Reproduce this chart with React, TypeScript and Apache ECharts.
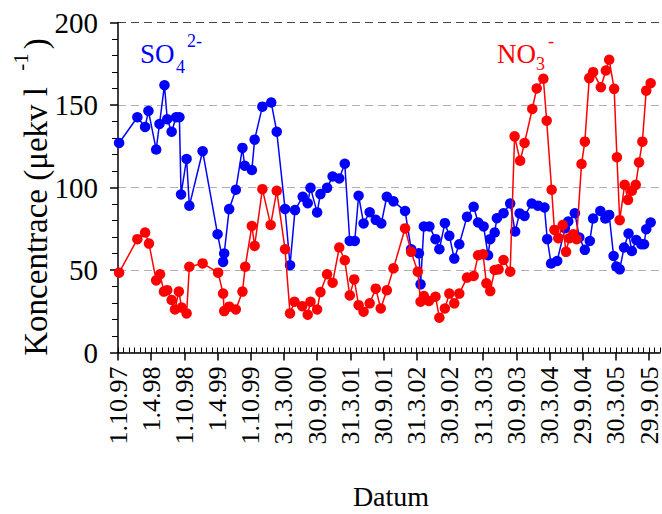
import React, { useEffect, useRef } from "react";
import * as echarts from "echarts";

const FONT = "'Liberation Serif', 'Times New Roman', Times, serif";

// x positions in months since 1 Oct 1997
const so4Months = [
  0.2, 3.5, 4.9, 5.5, 6.9, 7.5, 8.4, 8.9, 9.7, 10.5, 11.1, 11.4, 12.4, 12.9, 15.3,
  18.0, 19.0, 19.2, 20.1, 21.3, 22.5, 22.9, 24.2, 24.7, 26.1, 27.7, 28.7, 30.2, 31.1,
  32.0, 33.4, 34.3, 34.8, 36.0, 36.6, 37.8, 38.8, 40.0, 41.0, 41.9, 42.8, 43.5, 44.4,
  45.5, 46.6, 47.6, 48.6, 49.8, 51.9, 53.0, 54.4, 54.7, 55.3, 56.3, 57.4, 58.1, 59.1,
  59.9, 60.8, 61.7, 63.1, 64.3, 65.1, 66.1, 66.9, 67.3, 68.1, 68.5, 69.7, 70.9, 71.8,
  72.6, 73.5, 74.8, 75.9, 77.1, 77.6, 78.3, 79.4, 80.8, 81.4, 82.6, 83.4, 84.4, 85.3,
  85.9, 87.2, 88.1, 88.8, 89.6, 90.1, 90.7, 91.5, 92.3, 92.9, 93.7, 94.6, 95.1, 95.5, 96.3,
];
const so4Values = [
  127, 142.6, 136.7, 146.4, 123, 138.5, 162, 141.4, 133.8, 142.6, 142.6, 95.8, 117.3, 88.9, 122,
  71.7, 54.9, 60, 86.9, 98.6, 124, 113.2, 110.6, 129, 149, 151.5, 133.8, 87, 52.9,
  86.3, 94.4, 90.5, 99.8, 84.9, 96, 99.8, 106.7, 105.5, 114.4, 67.6, 67.6, 95, 78.2,
  85, 80.4, 78.2, 94.4, 91.6, 85.8, 62.6, 60.1, 41.3, 76.4, 76.4, 68.7, 62.6, 78.4,
  70.7, 56.9, 65.6, 82.2, 88.3, 78.8, 76.4, 58.9, 68.7, 72.7, 81.4, 84.4, 90.3, 73.3,
  84.3, 82.8, 90.3, 89, 87.9, 68.7, 53.9, 55.5, 75.3, 79.4, 84.4, 69.7, 62.2, 67.6,
  81.2, 85.8, 81.2, 83.4, 58.5, 52.1, 50.4, 63.6, 72.1, 61.5, 68.2, 65.6, 65.6, 74.7, 78.8,
];

const no3Months = [
  0.2, 3.5, 4.9, 5.6, 6.9, 7.6, 8.3, 8.9, 9.7, 10.3, 11.0, 11.5, 12.4, 12.9, 15.3,
  18.1, 19.0, 19.2, 20.1, 21.3, 22.5, 23.0, 24.2, 24.7, 26.1, 27.6, 28.7, 30.2, 31.1,
  31.9, 33.3, 34.3, 34.8, 36.0, 36.6, 37.8, 38.8, 40.0, 41.0, 41.9, 42.7, 43.5, 44.4,
  45.5, 46.6, 47.5, 48.6, 49.8, 51.9, 53.0, 54.2, 54.7, 55.3, 56.2, 57.4, 58.1, 59.1,
  59.9, 60.8, 61.7, 63.1, 64.3, 65.1, 66.0, 66.6, 67.3, 68.1, 68.8, 69.7, 70.9, 71.7,
  72.7, 73.5, 74.9, 75.7, 76.9, 77.5, 78.4, 78.9, 79.6, 80.4, 81.0, 81.6, 82.3, 82.9,
  83.8, 84.4, 85.2, 85.9, 87.3, 88.2, 88.8, 89.7, 90.2, 90.7, 91.6, 92.2, 92.9, 93.6,
  94.2, 94.8, 95.5, 96.3,
];
const no3Values = [
  48.4, 68.7, 72.7, 66, 43.7, 47.4, 36.9, 37.8, 31.8, 26.1, 36.9, 27.2, 23.7, 52, 54,
  48.4, 35.7, 25.1, 27.8, 26.1, 36.9, 52, 76.7, 64.6, 99, 77.3, 98, 62.6, 23.7,
  30.8, 28.1, 22.9, 30.8, 26.1, 36.6, 47.4, 42.3, 63.6, 55.9, 34.6, 44.3, 28.7, 24.7,
  29.8, 38.7, 26.7, 37.7, 51, 75.2, 61, 49, 30.8, 34.2, 31.2, 33.8, 21.1, 26.7,
  35.7, 29.8, 35.7, 45.4, 46.4, 58.9, 59.5, 41.9, 37.2, 50, 50.4, 56.1, 49, 131,
  116.2, 127, 147.6, 160, 165.9, 140.5, 98.6, 74.3, 69.3, 77.2, 61, 69.3, 71.7, 68.7,
  114.2, 127.8, 166.3, 169.9, 160.8, 170.9, 177.4, 159.8, 118.3, 80.2, 101.6, 92.5, 98, 101.6,
  115.2, 127.8, 158.7, 163.2,
];

const tickLabels = [
  "1.10.97", "1.4.98", "1.10.98", "1.4.99", "1.10.99", "31.3.00", "30.9.00", "31.3.01",
  "30.9.01", "31.3.02", "30.9.02", "31.3.03", "30.9.03", "30.3.04", "29.9.04", "30.3.05", "29.9.05",
];

export default function App() {
  const ref = useRef<HTMLDivElement>(null);
  useEffect(() => {
    if (!ref.current) return;
    const chart = echarts.init(ref.current, undefined, { renderer: "svg" });
    const black = "#000";
    chart.setOption({
      animation: false,
      grid: { left: 118, right: 0, top: 22.5, bottom: 161.5, containLabel: false },
      xAxis: [
        {
          type: "value",
          min: 0,
          max: 98,
          interval: 6,
          axisLine: { show: true, onZero: false, lineStyle: { color: black, width: 1.5 } },
          axisTick: { show: true, length: 8, lineStyle: { color: black, width: 1.5 } },
          axisLabel: {
            rotate: 90,
            margin: 14,
            fontSize: 26,
            fontFamily: FONT,
            color: black,
            showMaxLabel: false,
            formatter: (v: number) => {
              const i = Math.round(v / 6);
              return Math.abs(v - i * 6) < 1e-6 && i < tickLabels.length ? tickLabels[i] : "";
            },
          },
          splitLine: { show: false },
        },
        {
          type: "value",
          min: 0,
          max: 98,
          interval: 1,
          position: "bottom",
          axisLine: { show: false },
          axisTick: { show: true, inside: true, length: 5, lineStyle: { color: black, width: 1 } },
          axisLabel: { show: false },
          splitLine: { show: false },
        },
      ],
      yAxis: {
        type: "value",
        min: 0,
        max: 200,
        interval: 50,
        axisLine: { show: true, onZero: false, lineStyle: { color: black, width: 1.5 } },
        axisTick: { show: true, length: 8, lineStyle: { color: black, width: 1.5 } },
        minorTick: { show: true, splitNumber: 5, length: 6, lineStyle: { color: black, width: 1 } },
        axisLabel: { fontSize: 29, fontFamily: FONT, color: black, margin: 20 },
        splitLine: {
          show: true,
          lineStyle: { type: [8, 5], width: 1, color: ["#b0b0b0", "#b0b0b0", "#b0b0b0", "#b0b0b0", "#444"] },
        },
      },
      series: [
        {
          type: "line",
          name: "SO4",
          xAxisIndex: 0,
          data: so4Months.map((m, i) => [m, so4Values[i]]),
          symbol: "circle",
          symbolSize: 10.5,
          itemStyle: { color: "#0000ff" },
          lineStyle: { color: "#0000ff", width: 1.5 },
          z: 3,
        },
        {
          type: "line",
          name: "NO3",
          xAxisIndex: 0,
          data: no3Months.map((m, i) => [m, no3Values[i]]),
          symbol: "circle",
          symbolSize: 10.5,
          itemStyle: { color: "#ff0000" },
          lineStyle: { color: "#ff0000", width: 1.5 },
          z: 4,
        },
      ],
      graphic: [
        { type: "text", left: 140, top: 40, style: { text: "SO", fontSize: 27, fontFamily: FONT, fill: "#0000ff" } },
        { type: "text", left: 176, top: 58, style: { text: "4", fontSize: 18, fontFamily: FONT, fill: "#0000ff" } },
        { type: "text", left: 187, top: 32, style: { text: "2-", fontSize: 18, fontFamily: FONT, fill: "#0000ff" } },
        { type: "text", left: 497, top: 40, style: { text: "NO", fontSize: 27, fontFamily: FONT, fill: "#ff0000" } },
        { type: "text", left: 536, top: 55, style: { text: "3", fontSize: 18, fontFamily: FONT, fill: "#ff0000" } },
        { type: "text", left: 548, top: 32, style: { text: "-", fontSize: 18, fontFamily: FONT, fill: "#ff0000" } },
        {
          type: "text",
          x: 31.5,
          y: 197,
          rotation: Math.PI / 2,
          style: {
            text: "{a|Koncentrace (μekv l }{b|-1}{a|)}",
            align: "center",
            verticalAlign: "middle",
            fill: black,
            rich: {
              a: { fontSize: 33, fontFamily: FONT, lineHeight: 42, verticalAlign: "bottom", fill: black },
              b: { fontSize: 21, fontFamily: FONT, lineHeight: 21, verticalAlign: "top", fill: black, padding: [0, 4, 0, 8] },
            },
          },
        },
        {
          type: "text",
          x: 391,
          y: 496,
          style: { text: "Datum", fontSize: 28, fontFamily: FONT, fill: black, align: "center", verticalAlign: "middle" },
        },
      ],
    });
    return () => chart.dispose();
  }, []);
  return <div ref={ref} style={{ position: "absolute", left: 0, top: 0, width: 662, height: 514 }} />;
}
